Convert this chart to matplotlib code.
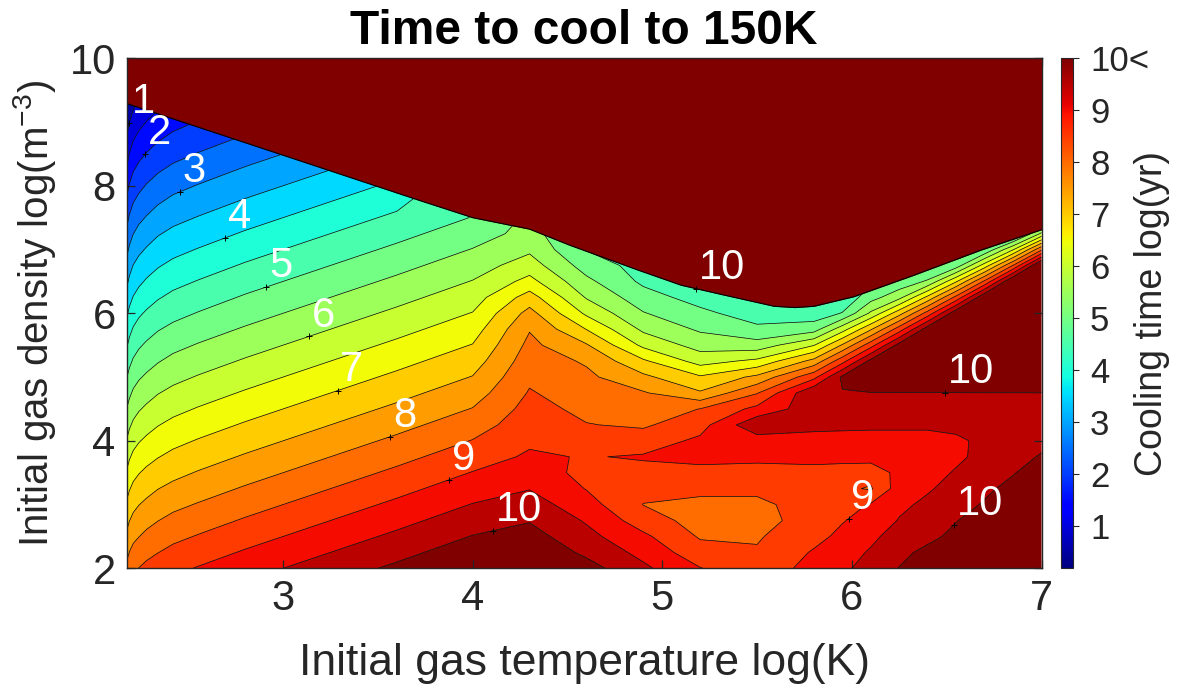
import matplotlib.pyplot as plt
import numpy as np
from matplotlib.colors import Normalize
from matplotlib.cm import ScalarMappable

plt.rcParams['font.family'] = ['Liberation Sans', 'DejaVu Sans']
plt.rcParams['mathtext.fontset'] = 'custom'
plt.rcParams['mathtext.rm'] = 'Liberation Sans'
plt.rcParams['mathtext.it'] = 'Liberation Sans:italic'

# grid: initial temperature log(K) columns, initial density log(m^-3) rows
log_temp = [2.176, 2.19, 2.21, 2.24, 2.28, 2.34, 2.42, 2.55, 2.8, 3.2, 3.6,
            4.0, 4.3, 4.6, 4.9, 5.2, 5.5, 5.8, 5.95, 6.1, 6.25, 6.4, 6.55,
            6.7, 6.85, 7.0]
log_dens = [2.0, 2.25, 2.5, 2.75, 3.0, 3.25, 3.5, 3.75, 4.0, 4.25, 4.5, 4.75,
            5.0, 5.25, 5.5, 5.75, 6.0, 6.25, 6.5, 6.75, 7.0, 7.25, 7.5,
            8.0, 8.5, 9.0, 9.5, 10.0]

# cooling time log(yr); one list per temperature column, low to high density
cool_time = [
    [8.13, 7.86, 7.60, 7.34, 7.08, 6.81, 6.55, 6.29, 6.03, 5.76, 5.51, 5.24, 4.98, 4.71,
     4.45, 4.19, 3.93, 3.66, 3.40, 3.14, 2.88, 2.61, 2.35, 1.83, 1.30, 0.78, 0.25, -0.27],
    [8.27, 8.01, 7.75, 7.49, 7.23, 6.97, 6.71, 6.45, 6.19, 5.93, 5.67, 5.41, 5.15, 4.89,
     4.63, 4.37, 4.11, 3.85, 3.59, 3.33, 3.07, 2.81, 2.55, 2.03, 1.51, 0.99, 0.47, -0.05],
    [8.40, 8.14, 7.89, 7.63, 7.37, 7.11, 6.86, 6.60, 6.34, 6.08, 5.83, 5.57, 5.31, 5.05,
     4.80, 4.54, 4.28, 4.02, 3.77, 3.51, 3.25, 2.99, 2.74, 2.22, 1.71, 1.19, 0.68, 0.16],
    [8.51, 8.26, 7.99, 7.74, 7.49, 7.23, 6.98, 6.72, 6.47, 6.21, 5.96, 5.70, 5.45, 5.19,
     4.94, 4.68, 4.43, 4.17, 3.91, 3.66, 3.40, 3.15, 2.89, 2.38, 1.87, 1.36, 0.85, 0.34],
    [8.62, 8.37, 8.11, 7.86, 7.60, 7.35, 7.10, 6.84, 6.59, 6.33, 6.08, 5.83, 5.57, 5.32,
     5.07, 4.81, 4.56, 4.30, 4.05, 3.80, 3.54, 3.29, 3.03, 2.53, 2.02, 1.51, 1.01, 0.49],
    [8.75, 8.49, 8.25, 7.99, 7.74, 7.49, 7.24, 6.98, 6.73, 6.48, 6.23, 5.98, 5.72, 5.47,
     5.22, 4.97, 4.72, 4.46, 4.21, 3.96, 3.71, 3.46, 3.20, 2.70, 2.19, 1.69, 1.19, 0.68],
    [8.88, 8.63, 8.38, 8.13, 7.88, 7.62, 7.37, 7.12, 6.87, 6.62, 6.37, 6.12, 5.87, 5.62,
     5.37, 5.11, 4.86, 4.61, 4.36, 4.11, 3.86, 3.61, 3.36, 2.86, 2.35, 1.85, 1.35, 0.85],
    [9.03, 8.78, 8.53, 8.28, 8.03, 7.78, 7.53, 7.28, 7.03, 6.78, 6.53, 6.28, 6.03, 5.78,
     5.53, 5.28, 5.02, 4.77, 4.52, 4.27, 4.02, 3.77, 3.52, 3.02, 2.52, 2.02, 1.52, 1.02],
    [9.30, 9.05, 8.80, 8.55, 8.30, 8.05, 7.80, 7.55, 7.30, 7.05, 6.80, 6.55, 6.30, 6.05,
     5.80, 5.55, 5.30, 5.05, 4.80, 4.55, 4.30, 4.05, 3.80, 3.30, 2.80, 2.30, 1.80, 1.30],
    [9.70, 9.45, 9.20, 8.95, 8.70, 8.45, 8.20, 7.95, 7.70, 7.45, 7.20, 6.95, 6.70, 6.45,
     6.20, 5.95, 5.70, 5.45, 5.20, 4.95, 4.70, 4.45, 4.20, 3.70, 3.20, 2.70, 2.20, 1.70],
    [10.10, 9.85, 9.60, 9.35, 9.10, 8.85, 8.60, 8.35, 8.10, 7.85, 7.60, 7.35, 7.10, 6.85,
     6.60, 6.35, 6.10, 5.85, 5.60, 5.35, 5.10, 4.85, 4.60, 4.10, 3.60, 3.10, 2.60, 2.10],
    [10.52, 10.27, 10.02, 9.77, 9.52, 9.27, 9.02, 8.77, 8.52, 8.27, 8.02, 7.77, 7.52, 7.27,
     7.02, 6.77, 6.52, 6.27, 6.02, 5.77, 5.52, 5.27, 5.02, 5.00, 5.00, 5.00, 5.00, 5.00],
    [10.6, 10.4, 10.2, 9.97, 9.73, 9.48, 9.28, 9.07, 8.92, 8.79, 8.67, 8.54, 8.41, 8.27,
     8.13, 7.97, 7.67, 7.22, 6.66, 6.24, 5.91, 5.67, 5.6, 5.6, 5.6, 5.6, 5.6, 5.6],
    [10.2, 9.9, 9.65, 9.45, 9.2, 8.98, 8.85, 8.97, 8.7, 8.52, 8.38, 8.25, 8.11, 7.94,
     7.55, 6.99, 6.41, 5.96, 5.62, 5.28, 4.98, 4.98, 4.98, 4.98, 4.98, 4.98, 4.98, 4.98],
    [9.6, 9.35, 9.1, 8.75, 8.49, 8.62, 8.85, 9.05, 8.75, 8.43, 8.24, 8.05, 7.61, 7.08,
     6.39, 5.9, 5.53, 5.21, 4.9, 4.8, 4.8, 4.8, 4.8, 4.8, 4.8, 4.8, 4.8, 4.8],
    [9.02, 8.7, 8.45, 8.3, 8.4, 8.6, 8.85, 9.15, 9.1, 8.81, 8.51, 7.56, 7.06, 6.3,
     5.8, 5.43, 5.12, 4.8, 4.7, 4.7, 4.7, 4.7, 4.7, 4.7, 4.7, 4.7, 4.7, 4.7],
    [8.65, 8.55, 8.45, 8.3, 8.4, 8.6, 8.85, 9.1, 9.25, 9.9, 9.14, 8.47, 7.62, 6.62,
     5.71, 5.11, 4.76, 4.5, 4.5, 4.5, 4.5, 4.5, 4.5, 4.5, 4.5, 4.5, 4.5, 4.5],
    [9.2, 9.05, 8.85, 8.75, 8.7, 8.75, 8.9, 9.1, 9.3, 9.65, 9.8, 9.97, 8.86, 7.67,
     6.48, 5.29, 4.7, 4.55, 4.5, 4.5, 4.5, 4.5, 4.5, 4.5, 4.5, 4.5, 4.5, 4.5],
    [9.45, 9.3, 9.12, 8.97, 8.75, 8.6, 8.8, 9.15, 9.3, 9.62, 9.78, 9.97, 10.1, 8.83,
     7.56, 6.29, 5.03, 4.6, 4.55, 4.55, 4.55, 4.55, 4.55, 4.55, 4.55, 4.55, 4.55, 4.55],
    [9.6, 9.55, 9.4, 9.2, 9.05, 8.45, 8.7, 9.2, 9.3, 9.6, 9.75, 9.95, 11.5, 10.16,
     8.8, 7.45, 6.09, 5.3, 4.9, 4.9, 4.9, 4.9, 4.9, 4.9, 4.9, 4.9, 4.9, 4.9],
    [10.02, 9.85, 9.7, 9.53, 9.4, 9.25, 9.15, 9.18, 9.3, 9.6, 9.75, 9.96, 11.5, 11.7,
     10.2, 8.76, 7.31, 5.85, 5.15, 4.9, 4.9, 4.9, 4.9, 4.9, 4.9, 4.9, 4.9, 4.9],
    [10.4, 10.15, 9.85, 9.7, 9.6, 9.45, 9.3, 9.25, 9.3, 9.6, 9.75, 9.95, 11.5, 12.0,
     11.86, 10.29, 8.72, 7.14, 5.57, 4.9, 4.9, 4.9, 4.9, 4.9, 4.9, 4.9, 4.9, 4.9],
    [10.6, 10.35, 10.15, 9.98, 9.8, 9.67, 9.55, 9.4, 9.42, 9.62, 9.78, 9.96, 12.0, 12.0,
     12.0, 12.08, 10.37, 8.66, 6.95, 5.24, 4.6, 4.6, 4.6, 4.6, 4.6, 4.6, 4.6, 4.6],
    [10.8, 10.6, 10.4, 10.25, 10.05, 9.9, 9.75, 9.65, 9.6, 9.65, 9.8, 9.97, 12.0, 12.0,
     12.0, 12.0, 12.3, 10.47, 8.6, 6.73, 5.05, 4.5, 4.5, 4.5, 4.5, 4.5, 4.5, 4.5],
    [11.1, 10.95, 10.75, 10.55, 10.35, 10.15, 9.97, 9.8, 9.72, 9.7, 9.82, 9.97, 12.3, 12.3,
     12.3, 12.3, 12.3, 12.6, 10.6, 8.53, 6.46, 4.5, 4.5, 4.5, 4.5, 4.5, 4.5, 4.5],
    [11.5, 11.3, 11.1, 10.9, 10.7, 10.5, 10.25, 10.05, 9.85, 9.75, 9.85, 9.97, 12.5, 12.5,
     12.5, 12.5, 12.5, 12.5, 13.0, 10.73, 8.42, 6.1, 4.5, 4.5, 4.5, 4.5, 4.5, 4.5],
]

# density above which the gas does not reach 150 K within 10^10 yr
edge_temp = [2.176, 3.0, 3.72, 4.0, 4.15, 4.3, 4.51, 4.87, 5.1, 5.32, 5.59, 5.7,
             5.8, 6.01, 6.33, 6.68, 7.0]
edge_dens = [9.29, 8.48, 7.77, 7.50, 7.41, 7.32, 7.07, 6.68, 6.44, 6.29, 6.11, 6.09,
             6.11, 6.26, 6.60, 6.99, 7.31]

# contour labels: level and approximate place on its line
label_level = [1, 2, 3, 4, 5, 6, 7, 8, 9, 10, 10, 9, 10]
label_temp = [2.19, 2.279, 2.455, 2.694, 2.912, 3.134, 3.282, 3.567, 3.88, 4.108,
              6.49, 5.98, 6.53]
label_dens = [8.99, 8.49, 7.90, 7.19, 6.41, 5.66, 4.84, 4.06, 3.37, 2.60,
              4.76, 2.79, 2.71]
edge_label_temp = 5.18

levels = np.arange(0.5, 10.01, 0.5)
t_min, t_max = 0.19, 10.0
cmap = plt.get_cmap('jet')
norm = Normalize(t_min, t_max)
# each band takes the colour of its lower level
fill_levels = np.concatenate([[-50.0], levels, [50.0]])
fill_colors = [cmap(norm(v)) for v in np.concatenate([[t_min], levels])]
top_color = cmap(1.0)
ink = (0.15, 0.15, 0.15)

z = np.array(cool_time).T

fig = plt.figure(figsize=(11.79, 6.93), dpi=100)
ax = fig.add_axes([0.1075, 0.1799, 0.7759, 0.736])

ax.contourf(log_temp, log_dens, z, levels=fill_levels, colors=fill_colors,
            antialiased=True)
cs = ax.contour(log_temp, log_dens, z, levels=levels, colors='k', linewidths=0.5)

ax.fill_between(edge_temp, edge_dens, 10, color=top_color, lw=0, zorder=3)
ax.plot(edge_temp, edge_dens, color='k', lw=0.8, zorder=3)

# pixel-ish scaling so "nearest" means nearest on screen
scale = np.array([189.5, 63.85])


def nearest_on_lines(lines, tx, ty):
    p = np.array([tx, ty]) * scale
    best_d, best_pt = np.inf, (tx, ty)
    for line in lines:
        q = np.asarray(line) * scale
        if len(q) < 2:
            continue
        a, ab = q[:-1], q[1:] - q[:-1]
        t = ((p - a) * ab).sum(1) / np.maximum((ab ** 2).sum(1), 1e-12)
        c = a + ab * np.clip(t, 0, 1)[:, None]
        d = ((c - p) ** 2).sum(1)
        i = int(np.argmin(d))
        if d[i] < best_d:
            best_d, best_pt = d[i], c[i] / scale
    return best_pt


paths = cs.get_paths()
marks = []
for lev, tx, ty in zip(label_level, label_temp, label_dens):
    k = int(np.argmin(np.abs(levels - lev)))
    lines = paths[k].to_polygons(closed_only=False)
    px, py = nearest_on_lines(lines, tx, ty)
    marks.append((lev, px, py))
edge_line = [np.column_stack([edge_temp, edge_dens])]
px, py = nearest_on_lines(edge_line, edge_label_temp,
                          np.interp(edge_label_temp, edge_temp, edge_dens))
marks.append((10, px, py))

# '+' on the line, value written above and to the right
for lev, px, py in marks:
    ax.plot(px, py, '+', color='k', ms=5, mew=0.7, zorder=4)
    ax.annotate(str(lev), (px, py), xytext=(2, 7), textcoords='offset points',
                color='white', fontsize=30, ha='left', va='baseline', zorder=5)

ax.set_xlim(log_temp[0], log_temp[-1])
ax.set_ylim(2, 10)
ax.set_xticks([3, 4, 5, 6, 7])
ax.set_yticks([2, 4, 6, 8, 10])
ax.tick_params(direction='in', length=6, width=0.9, top=True, right=True,
               labelsize=30, colors=ink, pad=8)
for sp in ax.spines.values():
    sp.set_color(ink)
    sp.set_linewidth(1.0)
    sp.set_zorder(6)

ax.set_xlabel('Initial gas temperature log(K)', fontsize=32, color=ink, labelpad=17)
ax.set_ylabel(r'Initial gas density log(m$^{-3}$)', fontsize=29, color=ink, labelpad=8)
ax.set_title('Time to cool to 150K', fontsize=34.5, fontweight='bold', pad=10)

cax = fig.add_axes([0.8997, 0.1799, 0.0107, 0.736])
cb = fig.colorbar(ScalarMappable(norm=norm, cmap=cmap), cax=cax)
cb.set_ticks(range(1, 11))
cb.set_ticklabels([str(i) for i in range(1, 10)] + ['10<'])
cax.tick_params(labelsize=25, length=4, width=0.8, colors=ink, pad=8)
cb.outline.set_edgecolor(ink)
cb.outline.set_linewidth(0.8)
fig.text(1152 / 1179, 1 - 314 / 693, 'Cooling time log(yr)', fontsize=27, color=ink,
         rotation=90, ha='center', va='center')

fig.savefig('out.png', dpi=100)
